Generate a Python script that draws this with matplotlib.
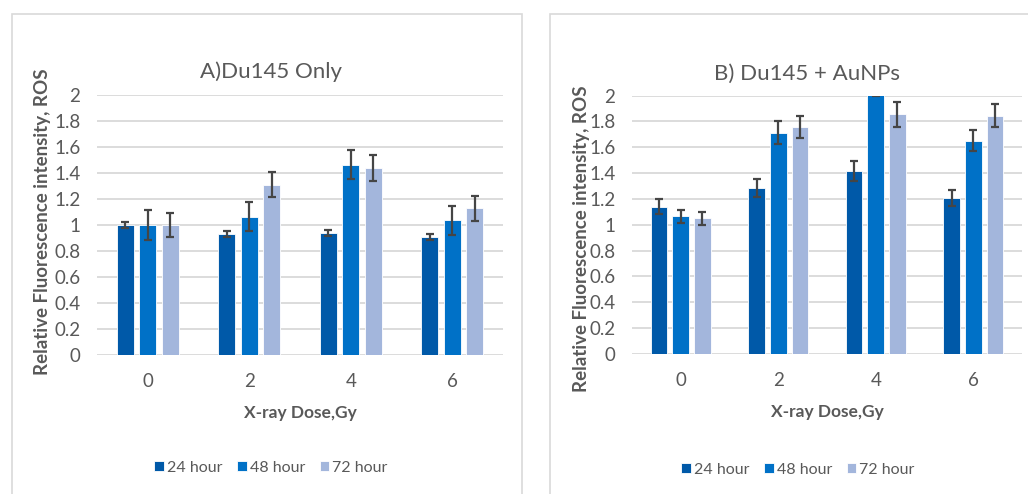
import numpy as np
import matplotlib.pyplot as plt
from matplotlib.patches import Rectangle

# doses on the x axis and the three incubation times
doses = ['0', '2', '4', '6']
series = ['24 hour', '48 hour', '72 hour']
colors = ['#0059A8', '#0071C7', '#A3B6DC']

# A) Du145 only
ros_a = [[1.00, 0.93, 0.94, 0.905],
         [1.00, 1.065, 1.465, 1.035],
         [1.00, 1.31, 1.44, 1.13]]
err_a = [[0.022, 0.022, 0.022, 0.022],
         [0.112, 0.112, 0.11, 0.11],
         [0.096, 0.097, 0.098, 0.096]]

# B) Du145 + AuNPs
ros_b = [[1.14, 1.285, 1.415, 1.205],
         [1.065, 1.713, 2.09, 1.65],
         [1.05, 1.758, 1.853, 1.843]]
err_b = [[0.057, 0.067, 0.076, 0.063],
         [0.052, 0.088, 0.09, 0.081],
         [0.052, 0.086, 0.095, 0.09]]

FONT = ['Lato', 'DejaVu Sans']
GREY = '#595959'
plt.rcParams['font.family'] = FONT

fig = plt.figure(figsize=(10.28, 4.94), dpi=100)

# panel frames
fig.patches.append(Rectangle((12/1028, -0.05), 510/1028, 1.05 - 14/494, transform=fig.transFigure,
                             fill=False, edgecolor='#D9D9D9', linewidth=1.2))
fig.patches.append(Rectangle((550/1028, -0.05), 0.5, 1.05 - 14/494, transform=fig.transFigure,
                             fill=False, edgecolor='#D9D9D9', linewidth=1.2))


def draw_panel(rect, vals, errs, title, title_xy, ylab_xy, xlab_y, leg_xy):
    ax = fig.add_axes(rect)
    x = np.arange(len(doses))
    pitch = 0.222
    for i, name in enumerate(series):
        ax.bar(x + (i - 1) * pitch, vals[i], width=0.17, color=colors[i], label=name,
               edgecolor='white', linewidth=0.6, zorder=3)
        ax.errorbar(x + (i - 1) * pitch, vals[i], yerr=errs[i], fmt='none', ecolor='#454545',
                    elinewidth=1.6, capsize=3, capthick=1.6, zorder=4)
    ax.set_xlim(-0.5, 3.5)
    ax.set_ylim(0, 2)
    ax.set_yticks(np.arange(0, 2.01, 0.2))
    ax.set_yticklabels(['0', '0.2', '0.4', '0.6', '0.8', '1', '1.2', '1.4', '1.6', '1.8', '2'])
    ax.set_xticks(x)
    ax.set_xticklabels(doses)
    ax.grid(axis='y', color='#D9D9D9', linewidth=1.3, zorder=0)
    ax.set_axisbelow(True)
    for s in ax.spines.values():
        s.set_visible(False)
    ax.tick_params(length=0, labelsize=13.5, colors=GREY)
    ax.tick_params(axis='x', pad=13)
    ax.tick_params(axis='y', pad=12)
    fig.text(title_xy[0], title_xy[1], title, ha='center', va='center', fontsize=16, color=GREY)
    fig.text(ylab_xy[0], ylab_xy[1], 'Relative Fluorescence intensity, ROS', rotation=90,
             ha='center', va='center', fontsize=13.5, fontweight='bold', color=GREY)
    fig.text(rect[0] + rect[2] / 2, xlab_y, 'X-ray Dose,Gy', ha='center', va='center',
             fontsize=12.5, fontweight='bold', color=GREY)
    fig.legend(*ax.get_legend_handles_labels(), loc='center', bbox_to_anchor=leg_xy, ncol=3,
               frameon=False, fontsize=11.5, labelcolor=GREY, handlelength=0.6, handleheight=0.6,
               handletextpad=0.2, columnspacing=0.9)
    return ax


draw_panel([97/1028, 1 - 355/494, 406/1028, 260/494], ros_a, err_a, 'A)Du145 Only',
           (271/1028, 1 - 72/494), (43/1028, 1 - 222/494), 1 - 413/494, (271/1028, 1 - 468/494))
draw_panel([632/1028, 1 - 354/494, 390/1028, 258.5/494], ros_b, err_b, 'B) Du145 + AuNPs',
           (807/1028, 1 - 74/494), (582/1028, 1 - 239/494), 1 - 412/494, (798/1028, 1 - 470/494))

fig.savefig('out.png', dpi=100, facecolor='white')
